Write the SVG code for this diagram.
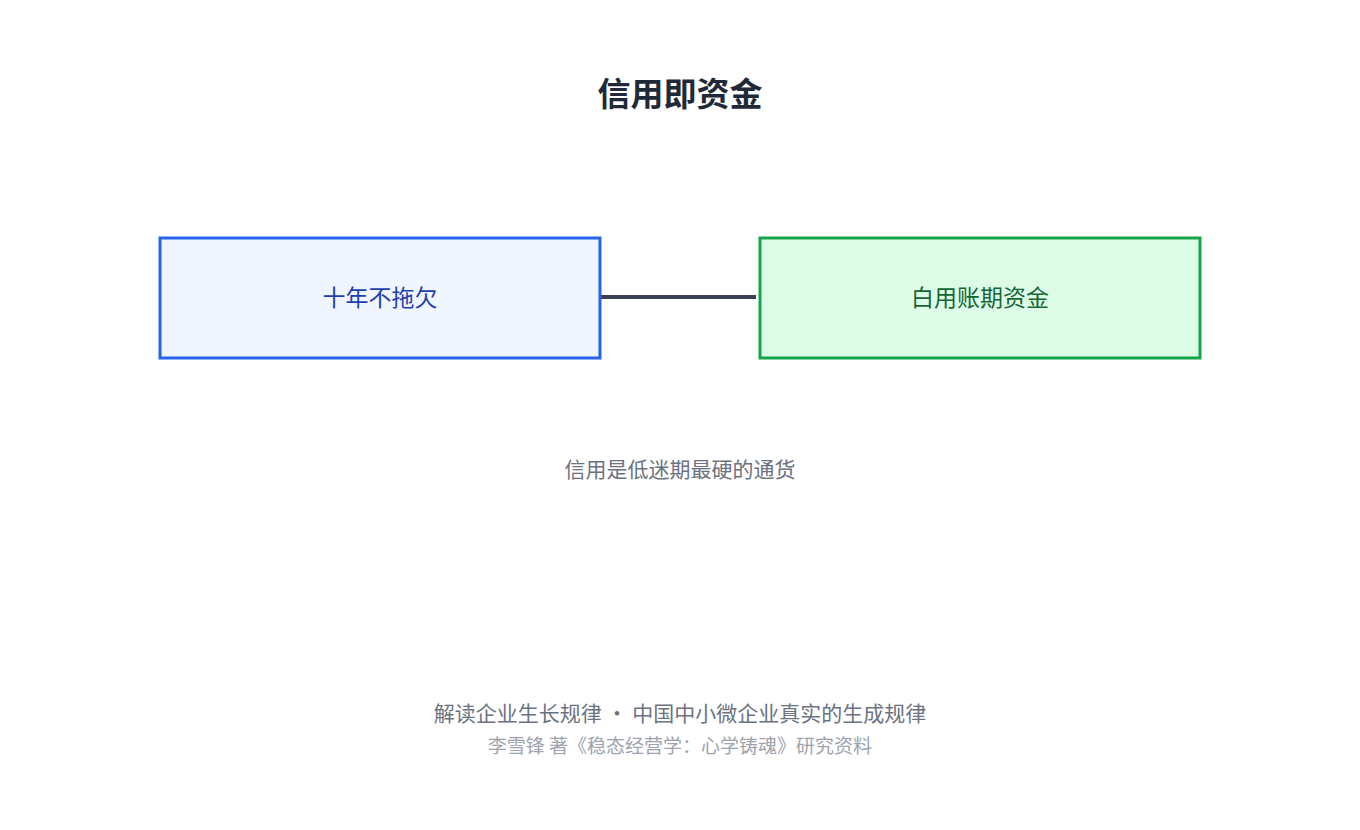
<svg xmlns="http://www.w3.org/2000/svg" width="1360" height="830" viewBox="0 0 1360 830">
<style>
text{font-family:"Noto Sans CJK SC","Noto Sans",sans-serif;text-anchor:middle}
.t{font-size:33px;font-weight:bold;fill:#1f2937}
.n{font-size:23px}
.s{font-size:21px;fill:#6b7280}
.f{font-size:19px;fill:#9ca3af}
</style>
<rect width="1360" height="830" fill="#fff"/>
<text class="t" x="680" y="106">信用即资金</text>
<g id="connectors"><line x1="600" y1="297" x2="756" y2="297" stroke="#374151" stroke-width="4"/></g>
<g id="n1"><rect x="160" y="238" width="440" height="120" fill="#eff6ff" stroke="#2563eb" stroke-width="3"/><text class="n" x="380" y="306" fill="#1e40af">十年不拖欠</text></g>
<g id="n2"><rect x="760" y="238" width="440" height="120" fill="#dcfce7" stroke="#16a34a" stroke-width="3"/><text class="n" x="980" y="306" fill="#166534">白用账期资金</text></g>
<text class="s" x="680" y="477">信用是低迷期最硬的通货</text>
<text class="s" x="680" y="721">解读企业生长规律 · 中国中小微企业真实的生成规律</text>
<text class="f" x="680" y="753">李雪锋 著《稳态经营学：心学铸魂》研究资料</text>
</svg>
